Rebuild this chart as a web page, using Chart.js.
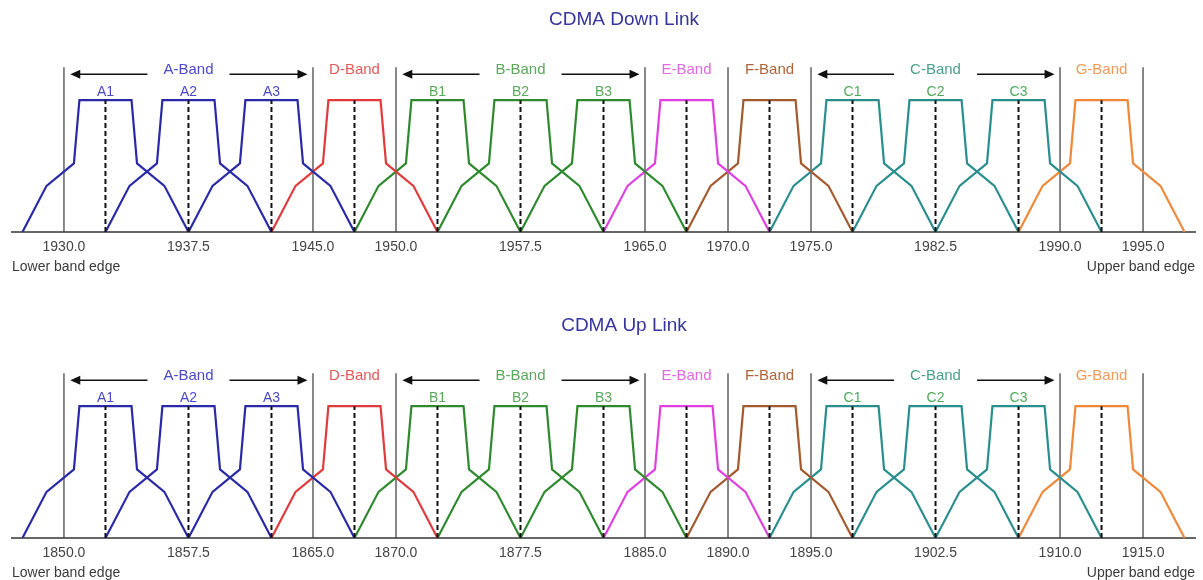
<!DOCTYPE html>
<html>
<head>
<meta charset="utf-8">
<script src="https://cdn.jsdelivr.net/npm/chart.js@4.4.1/dist/chart.umd.min.js"></script>
<style>
html,body{margin:0;padding:0;background:#fff;overflow:hidden}
.panel{position:absolute;left:0;width:1203px;height:306px}
#downWrap{top:0}
#upWrap{top:306px}
</style>
</head>
<body>
<div class="panel" id="downWrap"><canvas id="down" width="1203" height="306"></canvas></div>
<div class="panel" id="upWrap"><canvas id="up" width="1203" height="306"></canvas></div>
<script>
// channels, in order of frequency
const channelNames=['A1','A2','A3','D','B1','B2','B3','E','F','C1','C2','C3','G'];
const channelBand=['A','A','A','D','B','B','B','E','F','C','C','C','G'];
const downCenters=[1932.5,1937.5,1942.5,1947.5,1952.5,1957.5,1962.5,1967.5,1972.5,1977.5,1982.5,1987.5,1992.5];
const upCenters=[1852.5,1857.5,1862.5,1867.5,1872.5,1877.5,1882.5,1887.5,1892.5,1897.5,1902.5,1907.5,1912.5];
// spectrum mask of one channel: offset from centre (MHz) and relative level
const maskOffsets=[-5,-3.55,-1.9,-1.57,1.57,1.9,3.55,5];
const maskLevels=[0,0.35,0.52,1,1,0.52,0.35,0];
// bands, each spans edges[i]..edges[i+1]
const bandKeys=['A','D','B','E','F','C','G'];
const bandNames=['A-Band','D-Band','B-Band','E-Band','F-Band','C-Band','G-Band'];
const arrowBands=['A','B','C'];
const downEdges=[1930,1945,1950,1965,1970,1975,1990,1995];
const upEdges=[1850,1865,1870,1885,1890,1895,1910,1915];
const downTicks=[1930,1937.5,1945,1950,1957.5,1965,1970,1975,1982.5,1990,1995];
const upTicks=[1850,1857.5,1865,1870,1877.5,1885,1890,1895,1902.5,1910,1915];

const lineColor={A:'#2a2aa8',D:'#e03a3c',B:'#2f8a2f',E:'#e040e0',F:'#a35a2e',C:'#2a8e8e',G:'#f0883a'};
const textColor={A:'#4a4ac8',D:'#e05a5a',B:'#5aa85a',E:'#e068e0',F:'#b0643a',C:'#48a08c',G:'#f09a5a'};
const chanTextColor={A:'#4a4ac8',B:'#5aa85a',C:'#4caa5a'};
const FONT='"Liberation Sans", Arial, sans-serif';

const edgeTop=1.25, bandLabelLevel=1.232, arrowLevel=1.197, chanLabelLevel=1.06;

function overlay(title,edges){
  return {
    id:'overlay',
    afterDraw(chart){
      const {ctx,chartArea,scales:{x,y}}=chart;
      ctx.save();
      ctx.textAlign='center';ctx.textBaseline='middle';
      ctx.font='19px '+FONT;ctx.fillStyle='#35359c';
      ctx.fillText(title,624,20);
      ctx.font='15px '+FONT;
      bandKeys.forEach((k,i)=>{
        const cx=x.getPixelForValue((edges[i]+edges[i+1])/2);
        ctx.fillStyle=textColor[k];
        ctx.fillText(bandNames[i],cx,y.getPixelForValue(bandLabelLevel));
        if(!arrowBands.includes(k))return;
        const half=ctx.measureText(bandNames[i]).width/2+16;
        const x0=x.getPixelForValue(edges[i]+0.38), x1=x.getPixelForValue(edges[i+1]-0.33);
        const ay=y.getPixelForValue(arrowLevel);
        ctx.strokeStyle='#111';ctx.fillStyle='#111';ctx.lineWidth=1.5;
        ctx.beginPath();
        ctx.moveTo(x0+8,ay);ctx.lineTo(cx-half,ay);
        ctx.moveTo(cx+half,ay);ctx.lineTo(x1-8,ay);
        ctx.stroke();
        ctx.beginPath();
        ctx.moveTo(x0,ay);ctx.lineTo(x0+10,ay-4.5);ctx.lineTo(x0+10,ay+4.5);ctx.closePath();
        ctx.moveTo(x1,ay);ctx.lineTo(x1-10,ay-4.5);ctx.lineTo(x1-10,ay+4.5);ctx.closePath();
        ctx.fill();
      });
      ctx.font='14px '+FONT;
      chart.data.datasets.forEach(ds=>{
        if(!ds.chanLabel)return;
        ctx.fillStyle=chanTextColor[ds.band];
        ctx.fillText(ds.chanLabel,x.getPixelForValue(ds.center),y.getPixelForValue(chanLabelLevel));
      });
      ctx.fillStyle='#3a3a3a';
      ctx.textAlign='left';
      ctx.fillText('Lower band edge',chartArea.left,267);
      ctx.textAlign='right';
      ctx.fillText('Upper band edge',chartArea.right,267);
      ctx.restore();
    }
  };
}

function drawPanel(id,title,centers,edges,ticks){
  const datasets=[];
  centers.forEach((c,i)=>{
    const band=channelBand[i];
    datasets.push({
      data:maskOffsets.map((o,k)=>({x:c+o,y:maskLevels[k]})),
      borderColor:lineColor[band],borderWidth:2.2,order:1,
      band,center:c,chanLabel:/\d/.test(channelNames[i])?channelNames[i]:''
    });
    datasets.push({
      data:[{x:c,y:0},{x:c,y:1}],
      borderColor:'#111',borderWidth:2,borderDash:[5,3],order:0
    });
  });
  edges.forEach(e=>{
    datasets.push({data:[{x:e,y:0},{x:e,y:edgeTop}],borderColor:'#3a3a3a',borderWidth:1.2,order:2});
  });
  datasets.forEach(d=>{d.showLine=true;d.pointRadius=0;d.fill=false;});
  new Chart(document.getElementById(id),{
    type:'scatter',
    data:{datasets},
    options:{
      responsive:false,animation:false,
      layout:{padding:{left:12,right:8,top:0,bottom:0}},
      plugins:{legend:{display:false},title:{display:false},tooltip:{enabled:false}},
      scales:{
        x:{type:'linear',min:edges[0]-3.13,max:edges[0]+68.13,
          grid:{display:false,drawTicks:false},
          border:{display:true,color:'#666',width:2},
          ticks:{autoSkip:false,maxRotation:0,padding:7,color:'#444',font:{size:14,family:FONT},
            callback:v=>Number(v).toFixed(1)},
          afterBuildTicks:s=>{s.ticks=ticks.map(v=>({value:v}));},
          afterFit:s=>{s.height=74;}
        },
        y:{display:false,min:0,max:1.76}
      }
    },
    plugins:[overlay(title,edges)]
  });
}

drawPanel('down','CDMA Down Link',downCenters,downEdges,downTicks);
drawPanel('up','CDMA Up Link',upCenters,upEdges,upTicks);
</script>
</body>
</html>
